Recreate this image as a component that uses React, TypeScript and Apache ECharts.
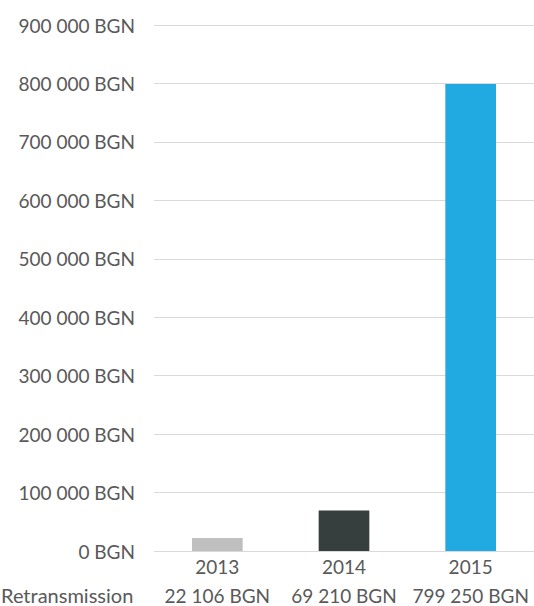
import React, { useEffect, useRef } from "react";
import * as echarts from "echarts";

const categories = ["2013", "2014", "2015"];
const values = [22106, 69210, 799250];
const barColors = ["#BFBFBF", "#373F3E", "#21A9E1"];
const seriesName = "Retransmission";
const yTicks = [0, 100000, 200000, 300000, 400000, 500000, 600000, 700000, 800000, 900000];

const fmt = (v: number) => String(v).replace(/\B(?=(\d{3})+(?!\d))/g, " ") + " BGN";
const FONT = "Lato";
const FS = 19;
const TXT = "#595959";

export default function App() {
  const ref = useRef<HTMLDivElement>(null);
  useEffect(() => {
    const chart = echarts.init(ref.current!, null, { renderer: "svg" });
    chart.setOption({
      animation: false,
      grid: { left: 154, right: -1, top: 25, bottom: 55 },
      xAxis: [
        {
          type: "category",
          data: categories,
          position: "bottom",
          axisLine: { show: false },
          axisTick: { show: false },
          axisLabel: {
            interval: 0,
            hideOverlap: false,
            margin: 6,
            lineHeight: 18,
            fontFamily: FONT,
            fontSize: FS,
            color: TXT,
          },
        },
        {
          type: "category",
          data: categories,
          position: "bottom",
          axisLine: { show: false },
          axisTick: { show: false },
          axisLabel: {
            interval: 0,
            hideOverlap: false,
            margin: 35,
            lineHeight: 18,
            fontFamily: FONT,
            fontSize: FS,
            color: TXT,
            formatter: (_v: string, i: number) => fmt(values[i]),
          },
        },
      ],
      yAxis: {
        type: "value",
        min: yTicks[0],
        max: yTicks[yTicks.length - 1],
        interval: 100000,
        axisLine: { show: false },
        axisTick: { show: false },
        splitLine: { lineStyle: { color: "#D9D9D9", width: 1 } },
        axisLabel: {
          margin: 19,
          fontFamily: FONT,
          fontSize: FS,
          color: TXT,
          formatter: (v: number) => fmt(v),
        },
      },
      graphic: [
        {
          type: "text",
          x: 1,
          y: 595,
          style: {
            text: seriesName,
            fontFamily: FONT,
            fontSize: 20,
            fill: TXT,
            verticalAlign: "middle",
            align: "left",
          },
        },
      ],
      series: [
        {
          name: seriesName,
          type: "bar",
          xAxisIndex: 0,
          barWidth: "40%",
          data: values.map((v, i) => ({ value: v, itemStyle: { color: barColors[i] } })),
        },
      ],
    });
    return () => chart.dispose();
  }, []);
  return (
    <div
      ref={ref}
      style={{ position: "fixed", left: 0, top: 0, width: 534, height: 606, background: "#fff" }}
    />
  );
}
